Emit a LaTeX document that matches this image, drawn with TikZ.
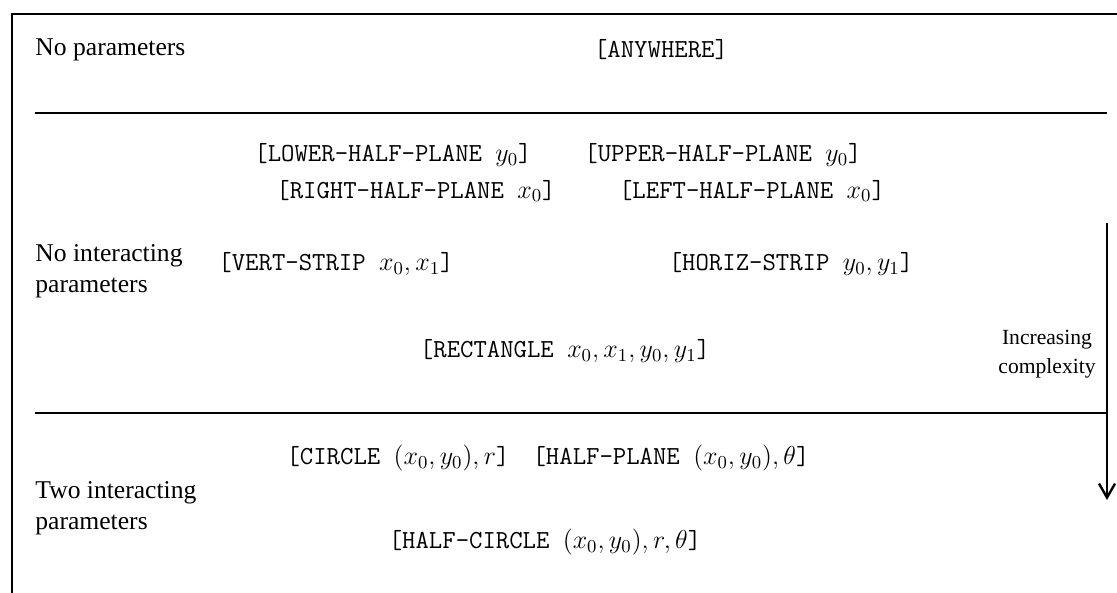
\RequirePackage{fix-cm}
\documentclass[tikz,border=0pt]{standalone}
\usepackage{fontspec}
\setmainfont{Liberation Serif}
\usetikzlibrary{arrows.meta}
\tikzset{
  code/.style={font=\fontsize{13}{15}\selectfont\ttfamily, inner sep=0pt},
  lab/.style={font=\fontsize{12.8}{15.5}\selectfont, align=left, inner sep=0pt, anchor=west},
  rule/.style={line width=1pt},
}
\begin{document}
\begin{tikzpicture}[x=0.5pt,y=-0.5pt]
\useasboundingbox (0,0) rectangle (1117,593);
% frame
\coordinate (fb) at (12,593);
\coordinate (ftl) at (12,14);
\coordinate (ftr) at (1117,14);
\draw[rule] (fb) -- (ftl) -- (ftr);
% dividers
\coordinate (d1l) at (35,113);
\coordinate (d1r) at (1107,113);
\coordinate (d2l) at (35,413);
\coordinate (d2r) at (1107,413);
\draw[rule] (d1l) -- (d1r);
\draw[rule] (d2l) -- (d2r);
% arrow
\coordinate (arrS) at (1107,223);
\coordinate (arrE) at (1107,500);
\draw[rule,-{Straight Barb[length=7pt,width=8pt,line width=1.2pt]}] (arrS) -- (arrE);
% row labels
\node[lab] (np) at (35,50) {No parameters};
\node[lab] (nip) at (35,271) {No interacting\\parameters};
\node[lab] (tip) at (35,508) {Two interacting\\parameters};
\node[lab, font=\fontsize{10.8}{14.5}\selectfont, align=center, anchor=center] (ic) at (1047,354) {Increasing\\complexity};
% entries
\node[code] (any) at (661,50) {[ANYWHERE]};
\node[code] (lhp) at (393,155) {[LOWER-HALF-PLANE $y_0$]};
\node[code] (uhp) at (723,155) {[UPPER-HALF-PLANE $y_0$]};
\node[code] (rhp) at (416,191) {[RIGHT-HALF-PLANE $x_0$]};
\node[code] (lfhp) at (752,191) {[LEFT-HALF-PLANE $x_0$]};
\node[code] (vs) at (336,264) {[VERT-STRIP $x_0, x_1$]};
\node[code] (hs) at (791,264) {[HORIZ-STRIP $y_0, y_1$]};
\node[code] (rect) at (565,351) {[RECTANGLE $x_0, x_1, y_0, y_1$]};
\node[code] (circ) at (398,458) {[CIRCLE $(x_0, y_0), r$]};
\node[code] (hpl) at (671,458) {[HALF-PLANE $(x_0, y_0), \theta$]};
\node[code] (hc) at (545,542) {[HALF-CIRCLE $(x_0, y_0), r, \theta$]};
\end{tikzpicture}
\end{document}
